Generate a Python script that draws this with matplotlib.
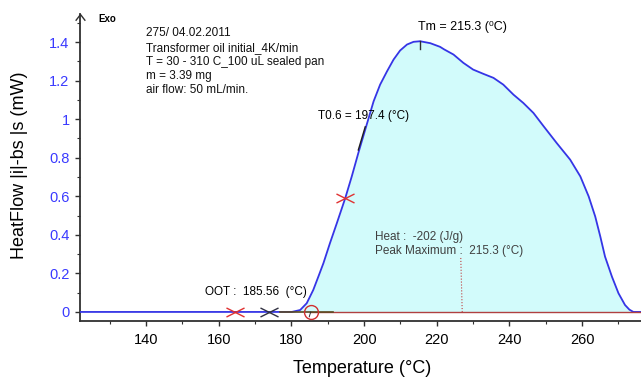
import matplotlib
matplotlib.use("Agg")
import matplotlib.pyplot as plt
from matplotlib.path import Path
from matplotlib.ticker import MultipleLocator, FuncFormatter

# DSC heat-flow curve
temp_c = [121.8, 176.0, 180.1, 182.4, 184.2, 186.0, 187.4, 188.8, 190.6, 192.5,
          194.8, 196.6, 198.4, 200.7, 202.6, 204.4, 206.3, 208.1, 209.9, 211.8,
          213.6, 215.4, 218.2, 220.9, 222.0, 224.6, 227.3, 230.0, 232.8, 235.6,
          238.3, 241.1, 243.8, 246.6, 249.4, 253.0, 256.7, 259.5, 261.8, 263.6,
          265.0, 266.3, 268.2, 270.0, 271.8, 273.0, 274.1, 276.2]
heat_flow = [0.0, 0.0, 0.0, 0.01, 0.045, 0.114, 0.183, 0.253, 0.357, 0.461,
             0.59, 0.703, 0.824, 0.971, 1.092, 1.179, 1.248, 1.309, 1.356, 1.387,
             1.401, 1.404, 1.394, 1.375, 1.362, 1.335, 1.292, 1.257, 1.235, 1.214,
             1.179, 1.127, 1.084, 1.032, 0.963, 0.876, 0.79, 0.703, 0.599, 0.495,
             0.391, 0.287, 0.183, 0.097, 0.036, 0.012, 0.0, 0.0]

x_major = [140, 160, 180, 200, 220, 240, 260]
y_major = [0, 0.2, 0.4, 0.6, 0.8, 1.0, 1.2, 1.4]

info_lines = ["275/ 04.02.2011",
              "Transformer oil initial_4K/min",
              "T = 30 - 310 C_100 uL sealed pan",
              "m = 3.39 mg",
              "air flow: 50 mL/min."]
info_y = [1.429, 1.355, 1.281, 1.207, 1.133]

red_marks_t = [164.5, 194.8]
red_marks_v = [0.0, 0.59]
dark_mark_t, dark_mark_v = 173.9, 0.0
onset_t = 185.3
peak_line_t = [226.6, 227.0]
peak_line_v = [0.28, 0.0]

plt.rcParams['font.family'] = ['Liberation Sans', 'DejaVu Sans']

fig = plt.figure(figsize=(6.41, 3.78), dpi=100)
ax = fig.add_axes([0.1248, 0.1508, 0.8752, 0.812])

ax.fill_between(temp_c, heat_flow, 0, color='#d2fbfb', lw=0)
ax.plot(temp_c, heat_flow, color='#3535e6', lw=1.3, zorder=3)
ax.plot([185.0, 276.2], [0, 0], color='#b04040', lw=1.0, zorder=4)
ax.plot([176.9, 191.5], [0, 0], color='#5a4a20', lw=1.2, zorder=4)

# flattened X markers
xp = Path([(-1, -0.5), (1, 0.5), (-1, 0.5), (1, -0.5)],
          [Path.MOVETO, Path.LINETO, Path.MOVETO, Path.LINETO])
ax.plot(red_marks_t, red_marks_v, ls='none', marker=xp, ms=13,
        mec='#e03030', mew=1.0, zorder=5)
ax.plot([dark_mark_t], [dark_mark_v], ls='none', marker=xp, ms=13,
        mec='#303040', mew=1.0, zorder=5)
ax.plot([onset_t], [0], ls='none', marker='o', ms=10, mfc='none',
        mec='#d03030', mew=1.0, zorder=5)
ax.plot([onset_t, onset_t - 0.4], [0, -0.025], color='#303030', lw=0.7, zorder=5)

ax.plot(peak_line_t, peak_line_v, color='#c04040', lw=0.8, ls=':', zorder=4)
ax.plot([215.4, 215.4], [1.366, 1.405], color='#303030', lw=1.0, zorder=5)
ax.plot([198.4, 200.3], [0.84, 0.96], color='#202020', lw=1.0, zorder=5)

# texts
for s, yv in zip(info_lines, info_y):
    ax.text(140.0, yv, s, fontsize=8.5, va='baseline', ha='left', color='#111111')
ax.text(126.8, 1.503, "Exo", fontsize=7, fontweight='bold', va='baseline')
ax.text(214.8, 1.460, "Tm = 215.3 (\u2070C)", fontsize=9, va='baseline')
ax.text(187.4, 1.003, "T0.6 = 197.4 (\u00b0C)", fontsize=8.5, va='baseline')
ax.text(156.2, 0.088, "OOT :  185.56  (\u00b0C)", fontsize=8.5, va='baseline')
ax.text(203.0, 0.374, "Heat :  -202 (J/g)", fontsize=8.5, va='baseline',
        color='#404040')
ax.text(203.0, 0.301, "Peak Maximum :  215.3 (\u00b0C)", fontsize=8.5,
        va='baseline', color='#404040')

# y axis arrow head
arrow = Path([(-1, -1.3), (0, 0), (1, -1.3)],
             [Path.MOVETO, Path.LINETO, Path.LINETO])
ax.plot([0], [1], transform=ax.transAxes, marker=arrow, ms=9, mfc='none',
        mec='#303030', mew=1.0, clip_on=False, ls='none')

ax.set_xlim(121.8, 276.2)
ax.set_ylim(-0.047, 1.545)
ax.set_xticks(x_major)
ax.set_yticks(y_major)
ax.xaxis.set_minor_locator(MultipleLocator(10))
ax.yaxis.set_minor_locator(MultipleLocator(0.1))
ax.yaxis.set_major_formatter(FuncFormatter(lambda v, p: '%g' % round(v, 1)))

for s in ['top', 'right']:
    ax.spines[s].set_visible(False)
for s in ['left', 'bottom']:
    ax.spines[s].set_color('#303030')
    ax.spines[s].set_linewidth(1.3)

ax.tick_params(axis='both', which='major', length=3.5, width=1, color='#303030',
               labelsize=10.5)
ax.tick_params(axis='both', which='minor', length=2, width=0.8, color='#303030')
ax.tick_params(axis='y', labelcolor='#3a3aff', pad=4)
ax.tick_params(axis='x', pad=5)

ax.set_ylabel("HeatFlow |i|-bs |s (mW)", fontsize=13)
ax.yaxis.set_label_coords(-0.092, 0.508)
ax.set_xlabel("Temperature (\u00b0C)", fontsize=13)
ax.xaxis.set_label_coords(0.503, -0.128)

fig.savefig("out.png", dpi=100)
